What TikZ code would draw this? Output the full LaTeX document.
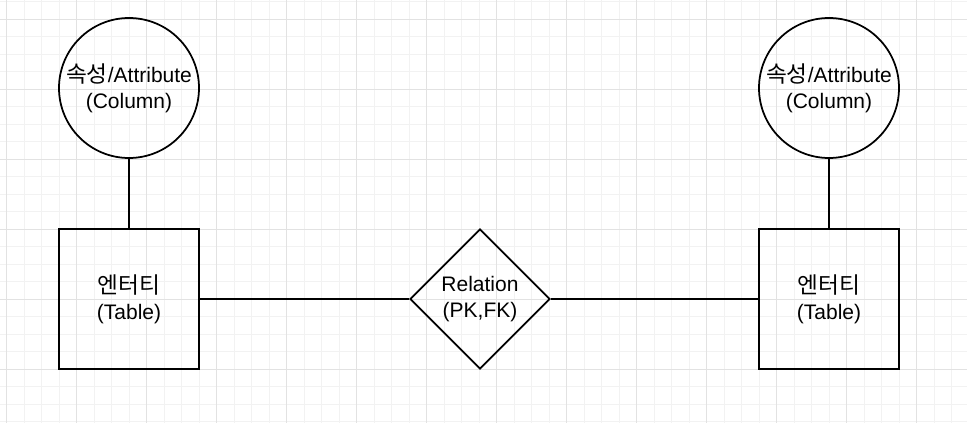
\documentclass[tikz,border=0pt]{standalone}
\usepackage{fontspec}
\setmainfont{Liberation Sans}
\newfontfamily\kr[Scale=1.08]{Noto Sans CJK KR}
\usetikzlibrary{shapes.geometric}
\definecolor{minorgray}{HTML}{F2F2F2}
\definecolor{majorgray}{HTML}{E2E2E2}
\tikzset{
	ent/.style={draw, line width=1.75pt, minimum size=140pt, inner sep=0pt, align=center, font=\fontsize{21}{26}\selectfont},
	att/.style={ent, circle},
	rel/.style={ent, diamond, minimum width=140pt, minimum height=140pt, aspect=1},
	conn/.style={line width=1.75pt}
}
\begin{document}
\begin{tikzpicture}[x=1pt,y=-1pt]
	\useasboundingbox (0,0) rectangle (967,423);
	\fill[white] (0,0) rectangle (967,423);
	% grid
	\foreach \i in {0,...,55} \draw[minorgray, line width=1pt] (6.7+17.5*\i,0) -- (6.7+17.5*\i,423);
	\foreach \i in {0,...,24} \draw[minorgray, line width=1pt] (0,1.5+17.5*\i) -- (967,1.5+17.5*\i);
	\foreach \i in {0,...,13} \draw[majorgray, line width=1pt] (6.7+70*\i,0) -- (6.7+70*\i,423);
	\foreach \i in {0,...,5} \draw[majorgray, line width=1pt] (0,19+70*\i) -- (967,19+70*\i);
	% shapes
	\node[att] (att1) at (129,88) {{\kr 속성}/Attribute\\(Column)};
	\node[att] (att2) at (829,88) {{\kr 속성}/Attribute\\(Column)};
	\node[ent] (ent1) at (129,299) {{\kr 엔터티}\\(Table)};
	\node[ent] (ent2) at (829,299) {{\kr 엔터티}\\(Table)};
	\node[rel] (rel) at (480,299) {Relation\\(PK,FK)};
	% connectors
	\draw[conn] (att1) -- (ent1);
	\draw[conn] (att2) -- (ent2);
	\draw[conn] (ent1) -- (rel);
	\draw[conn] (rel) -- (ent2);
\end{tikzpicture}
\end{document}
